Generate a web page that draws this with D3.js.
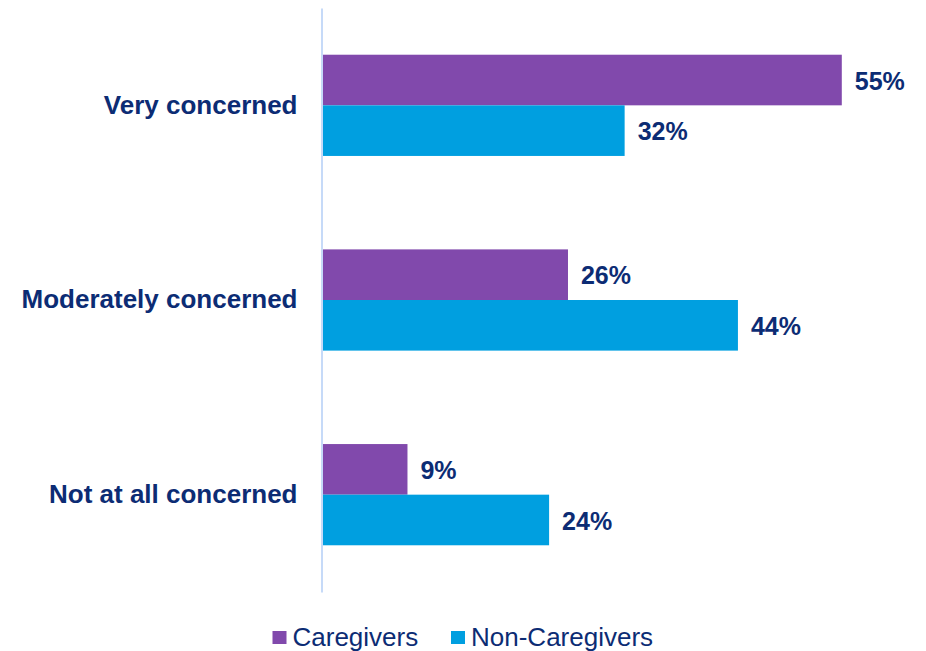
<!DOCTYPE html>
<html>
<head>
<meta charset="utf-8">
<script src="https://cdn.jsdelivr.net/npm/d3@7"></script>
<style>
  html, body { margin: 0; padding: 0; background: #fff; }
  svg { display: block; }
</style>
</head>
<body>
<svg id="chart" width="926" height="651"></svg>
<script>
// Level of concern, caregivers vs. non-caregivers (percent)
const categories = ["Very concerned", "Moderately concerned", "Not at all concerned"];
const seriesNames = ["Caregivers", "Non-Caregivers"];
const caregivers = [55, 26, 9];
const nonCaregivers = [32, 44, 24];

const colors = { "Caregivers": "#8149AC", "Non-Caregivers": "#009FE0" };
const textColor = "#0C2C74";
const axisColor = "#C6DAF8";

const rows = categories.map((c, i) => ({
  category: c,
  values: [
    { series: "Caregivers", value: caregivers[i] },
    { series: "Non-Caregivers", value: nonCaregivers[i] }
  ]
}));

const svg = d3.select("#chart");

const x = d3.scaleLinear().domain([0, 60]).range([322.5, 889]);
const y = d3.scaleBand().domain(categories).range([8, 592])
  .paddingInner(0.48).paddingOuter(0.24);
const ySub = d3.scaleBand().domain(seriesNames).range([0, y.bandwidth()]);

const font = "'Liberation Sans', Arial, sans-serif";

// bars
const groups = svg.selectAll("g.cat").data(rows).join("g")
  .attr("class", "cat")
  .attr("transform", d => `translate(0,${y(d.category)})`);

groups.selectAll("rect").data(d => d.values).join("rect")
  .attr("x", x(0))
  .attr("y", d => ySub(d.series))
  .attr("width", d => x(d.value) - x(0))
  .attr("height", ySub.bandwidth())
  .attr("fill", d => colors[d.series]);

// value labels
groups.selectAll("text.val").data(d => d.values).join("text")
  .attr("class", "val")
  .attr("x", d => x(d.value) + 13)
  .attr("y", d => ySub(d.series) + ySub.bandwidth() / 2 + 1)
  .attr("dy", "0.35em")
  .attr("font-family", font)
  .attr("font-weight", "bold")
  .attr("font-size", 25)
  .attr("fill", textColor)
  .text(d => d.value + "%");

// category axis
const yAxis = d3.axisLeft(y).tickSize(0).tickPadding(24);
const axisG = svg.append("g")
  .attr("transform", `translate(${x(0) - 1},0)`)
  .call(yAxis);
axisG.select(".domain").attr("stroke", axisColor).attr("stroke-width", 2);
axisG.selectAll(".tick text")
  .attr("font-family", font)
  .attr("font-weight", "bold")
  .attr("font-size", 26)
  .attr("fill", textColor);

// legend
const legendX = [272.5, 451];
const legend = svg.append("g");
seriesNames.forEach((s, i) => {
  legend.append("rect")
    .attr("x", legendX[i]).attr("y", 631)
    .attr("width", 14).attr("height", 13)
    .attr("fill", colors[s]);
  legend.append("text")
    .attr("x", legendX[i] + 20).attr("y", 645.5)
    .attr("font-family", font)
    .attr("font-size", 26)
    .attr("fill", textColor)
    .text(s);
});
</script>
</body>
</html>
